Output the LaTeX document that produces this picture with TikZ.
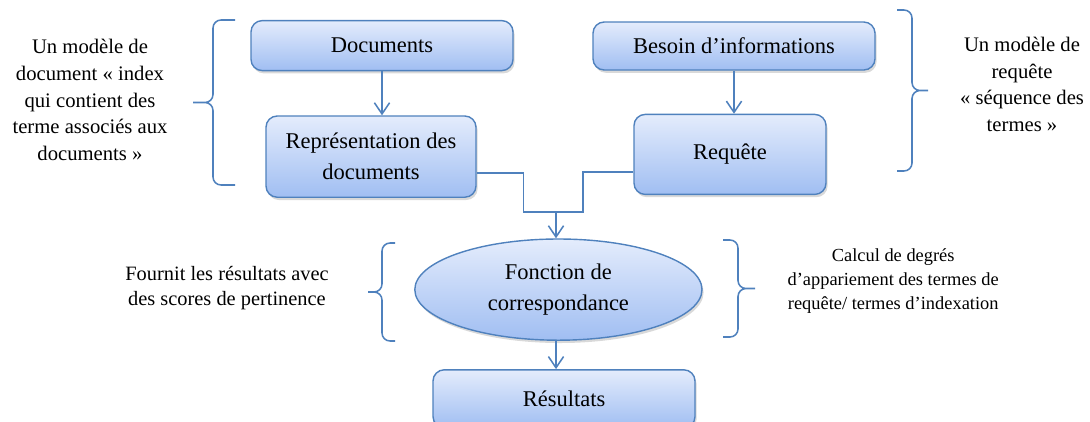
\documentclass[tikz,border=0pt]{standalone}
\usepackage{fontspec}
\setmainfont{Liberation Serif}
\usetikzlibrary{positioning,calc}
\usetikzlibrary{arrows.meta}
\usetikzlibrary{shapes.geometric,shadows}
\definecolor{bordbleu}{RGB}{79,129,189}
\definecolor{hautbleu}{RGB}{228,236,252}
\definecolor{basbleu}{RGB}{160,190,242}
\tikzset{
   bleu/.style={draw=bordbleu, line width=1pt, top color=hautbleu,
      bottom color=basbleu, align=center, inner sep=0pt,
      font=\fontsize{16}{20}\selectfont,
      drop shadow={opacity=0.3, shadow xshift=0.04cm, shadow yshift=-0.07cm}},
   boite/.style={bleu, rectangle, rounded corners=0.28cm},
   lien/.style={draw=bordbleu, line width=1.1pt},
   fleche/.style={lien, -{Straight Barb[length=0.28cm,width=0.38cm]}},
   accolade/.style={draw=bordbleu, line width=1.1pt, rounded corners=0.2cm},
   note/.style={align=center, font=\fontsize{14.7}{18.9}\selectfont}
}

\begin{document}
\begin{tikzpicture}
   \useasboundingbox (0,0) rectangle (27.25,-10.525);

   % documents side
   \node[boite, minimum width=6.55cm, minimum height=1.25cm] (d0) at (9.55,-1.14)
      {Documents};
   \node[boite, minimum width=5.25cm, minimum height=2.03cm,
      below=1.1cm of d0, xshift=-0.275cm]                     (d1)
      {Représentation des\\[2pt]documents};

   % query side
   \node[boite, minimum width=7.05cm, minimum height=1.2cm] (r0) at (18.35,-1.15)
      {Besoin d’informations};
   \node[boite, minimum width=4.8cm, minimum height=2.0cm,
      below=1.075cm of r0, xshift=-0.1cm]                     (r1) {Requête};

   % matching and results
   \node[bleu, ellipse, minimum width=7.18cm, minimum height=2.53cm] (f0)
      at (13.96,-7.24) {Fonction de\\[2pt]correspondance};
   \node[boite, minimum width=6.55cm, minimum height=1.45cm] (s0) at (14.1,-9.97)
      {Résultats};

   \coordinate (j0) at (13.9,-5.3);

   \draw[fleche] (d0) -- (d0 |- d1.north);
   \draw[fleche] (r0) -- (r0 |- r1.north);
   \draw[lien] ([yshift=-0.41cm]d1.east) -- ++(1.175,0) |- (j0);
   \draw[lien] ([yshift=-0.435cm]r1.west) -- ++(-1.262,0) |- (j0);
   \draw[fleche] (j0) -- (j0 |- f0.north);
   \draw[fleche] (f0.south -| j0) -- (s0.north -| j0);

   % braces
   \draw[accolade] (5.875,-0.5) -- (5.325,-0.5) |- (4.825,-2.5625)
                   (5.875,-4.625) -- (5.325,-4.625) |- (4.825,-2.5625);
   \draw[accolade] (22.425,-0.25) -- (22.8,-0.25) |- (23.2,-2.2625)
                   (22.425,-4.275) -- (22.8,-4.275) |- (23.2,-2.2625);
   \draw[accolade] (9.875,-6.075) -- (9.55,-6.075) |- (9.2,-7.3)
                   (9.875,-8.525) -- (9.55,-8.525) |- (9.2,-7.3);
   \draw[accolade] (18.075,-6.0) -- (18.45,-6.0) |- (18.875,-7.2125)
                   (18.075,-8.425) -- (18.45,-8.425) |- (18.875,-7.2125);

   % notes
   \node[note] (n0) at (2.25,-2.5) {Un modèle de\\document « index\\qui contient des\\terme associés aux\\documents »};
   \node[note] (n1) at (25.55,-2.11) {Un modèle de\\requête\\« séquence des\\termes »};
   \node[note, font=\fontsize{14.5}{17.8}\selectfont] (n2) at (5.675,-7.19)
      {Fournit les résultats avec\\des scores de pertinence};
   \node[note, font=\fontsize{13.1}{17}\selectfont] (n3) at (22.33,-7.03)
      {Calcul de degrés\\d’appariement des termes de\\requête/ termes d’indexation};
\end{tikzpicture}
\end{document}
